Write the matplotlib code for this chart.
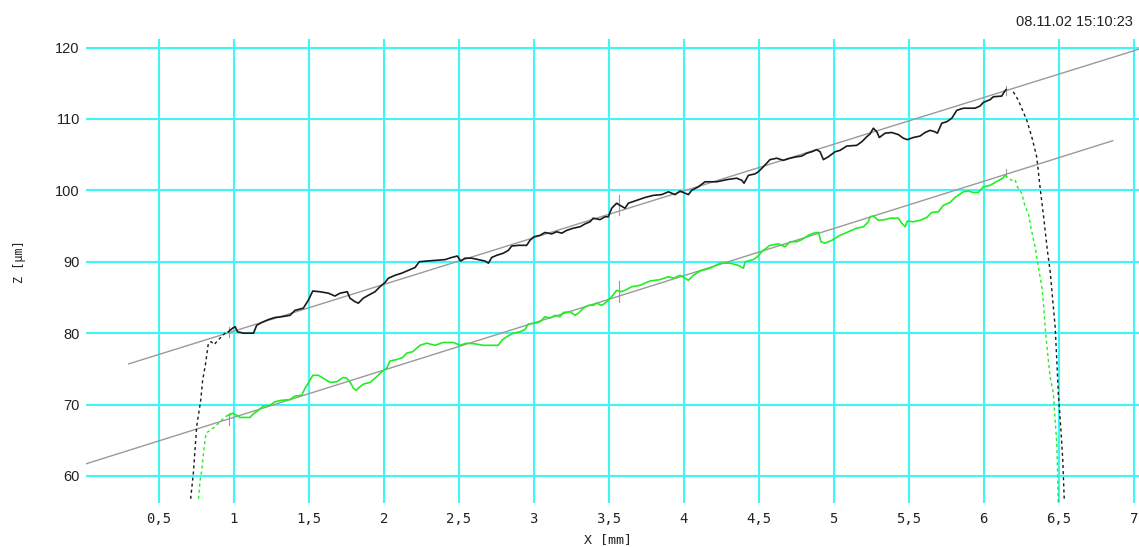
import matplotlib
matplotlib.use("Agg")
import matplotlib.pyplot as plt

# ---------------- data ----------------
# black profile: left run-in (dashed), measured (solid), right run-out (dashed)
black_left_x = [0.713, 0.731, 0.753, 0.780, 0.793, 0.813, 0.831, 0.850, 0.870, 0.890, 0.909, 0.942, 0.964]
black_left_z = [56.8, 60.4, 66.9, 70.6, 73.4, 75.8, 78.6, 78.8, 78.4, 78.9, 79.3, 80.0, 80.2]

black_x = [0.964, 0.993, 1.010, 1.025, 1.065, 1.132, 1.153, 1.187, 1.231, 1.276, 1.320, 1.375, 1.409,
           1.464, 1.497, 1.527, 1.575, 1.631, 1.675, 1.709, 1.757, 1.775, 1.809, 1.831, 1.864, 1.897,
           1.942, 1.975, 2.009, 2.031, 2.075, 2.120, 2.164, 2.209, 2.237, 2.287, 2.353, 2.409, 2.453,
           2.491, 2.513, 2.542, 2.587, 2.631, 2.675, 2.698, 2.720, 2.753, 2.798, 2.831, 2.853, 2.898,
           2.953, 2.975, 3.002, 3.042, 3.075, 3.120, 3.153, 3.187, 3.220, 3.264, 3.309, 3.342, 3.375,
           3.397, 3.442, 3.475, 3.497, 3.520, 3.553, 3.575, 3.609, 3.631, 3.687, 3.742, 3.798, 3.853,
           3.898, 3.942, 3.975, 4.009, 4.031, 4.053, 4.098, 4.142, 4.220, 4.287, 4.353, 4.387, 4.402,
           4.431, 4.475, 4.497, 4.531, 4.575, 4.620, 4.664, 4.709, 4.753, 4.787, 4.820, 4.853, 4.887,
           4.909, 4.931, 4.964, 5.009, 5.042, 5.087, 5.153, 5.187, 5.220, 5.242, 5.264, 5.287, 5.304,
           5.342, 5.387, 5.431, 5.464, 5.491, 5.531, 5.575, 5.609, 5.642, 5.675, 5.691, 5.720, 5.753,
           5.787, 5.820, 5.864, 5.909, 5.942, 5.975, 5.997, 6.042, 6.064, 6.120, 6.137, 6.149]
black_z = [80.2, 80.7, 80.9, 80.2, 80.0, 80.0, 81.1, 81.5, 81.9, 82.2, 82.3, 82.5, 83.2,
           83.5, 84.6, 85.9, 85.8, 85.6, 85.2, 85.6, 85.8, 84.9, 84.4, 84.2, 84.9, 85.3,
           85.8, 86.5, 87.1, 87.7, 88.1, 88.4, 88.8, 89.2, 90.0, 90.1, 90.2, 90.3, 90.6,
           90.8, 90.1, 90.5, 90.5, 90.3, 90.1, 89.8, 90.6, 90.9, 91.2, 91.6, 92.2, 92.3,
           92.3, 93.0, 93.5, 93.7, 94.1, 93.9, 94.2, 94.0, 94.4, 94.7, 94.9, 95.3, 95.6,
           96.1, 95.9, 96.3, 96.3, 97.5, 98.2, 97.9, 97.5, 98.2, 98.6, 99.0, 99.3, 99.4,
           99.8, 99.4, 99.9, 99.6, 99.4, 100.0, 100.5, 101.2, 101.2, 101.5, 101.7, 101.4, 101.0,
           102.1, 102.3, 102.6, 103.3, 104.3, 104.5, 104.2, 104.5, 104.7, 104.8, 105.2, 105.4, 105.7,
           105.4, 104.3, 104.7, 105.4, 105.6, 106.2, 106.3, 106.8, 107.5, 107.9, 108.7, 108.2, 107.4,
           108.0, 108.1, 107.8, 107.3, 107.1, 107.4, 107.6, 108.1, 108.4, 108.2, 108.0, 109.4, 109.6,
           110.1, 111.2, 111.5, 111.5, 111.5, 111.8, 112.3, 112.7, 113.1, 113.2, 113.8, 114.1]

black_right_x = [6.197, 6.231, 6.287, 6.320, 6.353, 6.375, 6.402, 6.424, 6.442, 6.460, 6.476,
                 6.487, 6.497, 6.513, 6.527, 6.535, 6.537]
black_right_z = [113.8, 112.6, 109.8, 107.5, 104.7, 100.5, 95.8, 91.6, 88.8, 84.6, 80.9,
                 76.2, 71.6, 66.9, 62.2, 57.6, 56.6]

# green profile
green_left_x = [0.765, 0.776, 0.787, 0.803, 0.816, 0.842, 0.875, 0.909, 0.942, 0.964]
green_left_z = [56.8, 59.4, 60.8, 64.1, 66.0, 66.4, 66.9, 67.6, 68.3, 68.5]

green_x = [0.964, 0.993, 1.020, 1.042, 1.109, 1.131, 1.164, 1.198, 1.242, 1.276, 1.320, 1.375, 1.409,
           1.453, 1.476, 1.497, 1.527, 1.564, 1.597, 1.642, 1.687, 1.731, 1.753, 1.780, 1.798, 1.816,
           1.842, 1.869, 1.909, 1.953, 1.987, 2.020, 2.042, 2.087, 2.127, 2.153, 2.193, 2.220, 2.242,
           2.287, 2.342, 2.397, 2.464, 2.509, 2.553, 2.609, 2.664, 2.720, 2.764, 2.787, 2.820, 2.864,
           2.909, 2.942, 2.964, 3.009, 3.042, 3.075, 3.109, 3.142, 3.175, 3.198, 3.242, 3.275, 3.298,
           3.331, 3.364, 3.397, 3.420, 3.453, 3.475, 3.497, 3.527, 3.553, 3.575, 3.609, 3.653, 3.709,
           3.775, 3.842, 3.898, 3.931, 3.975, 4.009, 4.031, 4.064, 4.109, 4.175, 4.242, 4.309, 4.364,
           4.398, 4.409, 4.464, 4.491, 4.520, 4.575, 4.631, 4.675, 4.709, 4.753, 4.787, 4.831, 4.864,
           4.898, 4.915, 4.942, 4.987, 5.042, 5.098, 5.153, 5.198, 5.231, 5.242, 5.264, 5.298, 5.342,
           5.376, 5.431, 5.453, 5.476, 5.491, 5.531, 5.575, 5.620, 5.653, 5.698, 5.731, 5.775, 5.809,
           5.864, 5.898, 5.931, 5.964, 5.997, 6.042, 6.075, 6.109, 6.127, 6.142]
green_z = [68.5, 68.8, 68.5, 68.2, 68.2, 68.7, 69.2, 69.8, 69.9, 70.4, 70.6, 70.7, 71.2,
           71.3, 72.3, 73.0, 74.1, 74.1, 73.7, 73.1, 73.2, 73.8, 73.7, 73.0, 72.3, 72.0,
           72.5, 72.9, 73.1, 73.9, 74.6, 75.1, 76.1, 76.3, 76.6, 77.2, 77.4, 77.9, 78.3,
           78.6, 78.3, 78.7, 78.7, 78.3, 78.6, 78.5, 78.3, 78.3, 78.3, 79.0, 79.5, 80.0,
           80.2, 80.5, 81.3, 81.4, 81.6, 82.3, 82.1, 82.5, 82.3, 82.9, 83.0, 82.5, 82.8,
           83.5, 83.9, 83.9, 84.2, 83.9, 84.2, 84.6, 85.3, 86.0, 85.8, 86.0, 86.5, 86.7,
           87.3, 87.5, 87.9, 87.7, 88.1, 87.7, 87.4, 88.1, 88.7, 89.1, 89.8, 89.8, 89.5,
           89.1, 90.0, 90.3, 90.7, 91.4, 92.3, 92.5, 92.1, 92.8, 92.8, 93.1, 93.7, 94.0,
           94.1, 92.8, 92.6, 93.0, 93.7, 94.2, 94.7, 94.9, 95.6, 96.3, 96.4, 95.8, 95.9,
           96.1, 96.1, 95.4, 94.9, 95.7, 95.6, 95.8, 96.2, 96.9, 97.0, 97.9, 98.3, 99.0,
           99.8, 99.9, 99.7, 99.7, 100.5, 100.7, 101.1, 101.5, 101.7, 102.1]

green_right_x = [6.142, 6.187, 6.209, 6.224, 6.253, 6.276, 6.298, 6.313, 6.342, 6.364, 6.387,
                 6.398, 6.409, 6.424, 6.442, 6.464, 6.476, 6.487, 6.493, 6.497]
green_right_z = [102.1, 101.4, 101.5, 100.5, 99.6, 97.7, 96.8, 94.9, 92.1, 89.3, 86.5,
                 84.2, 80.9, 77.6, 73.9, 71.6, 67.8, 64.6, 59.9, 56.2]

# fitted reference lines
fit_top_x = [0.30, 7.04]
fit_top_z = [75.7, 119.8]
fit_bot_x = [0.0, 6.86]
fit_bot_z = [61.6, 106.95]

# cursor marks (x, z from, z to)
cursor_x = [0.97, 3.57, 6.15]
cursor_top_lo = [79.5, 96.6, 113.3]
cursor_top_hi = [80.9, 99.4, 114.6]
cursor_bot_lo = [67.1, 84.3, 101.8]
cursor_bot_hi = [68.8, 87.3, 103.0]

x_ticks = [0.5, 1, 1.5, 2, 2.5, 3, 3.5, 4, 4.5, 5, 5.5, 6, 6.5, 7]
x_tick_labels = ["0,5", "1", "1,5", "2", "2,5", "3", "3,5", "4", "4,5", "5", "5,5", "6", "6,5", "7"]
y_ticks = [60, 70, 80, 90, 100, 110, 120]
y_tick_labels = ["60", "70", "80", "90", "100", "110", "120"]

timestamp = "08.11.02 15:10:23"
x_label = "X [mm]"
y_label = "Z [µm]"

# ---------------- figure ----------------
W, H = 1139, 547
fig = plt.figure(figsize=(W / 100, H / 100), dpi=100, facecolor="white")
ax = fig.add_axes([86 / W, (H - 502.7) / H, (W - 86) / W, (502.7 - 39.3) / H])
ax.set_facecolor("white")
ax.set_xlim(0.0153, 7.035)
ax.set_ylim(56.26, 121.15)
for s in ax.spines.values():
    s.set_visible(False)

grid_c = "#3ff6f6"
for xv in x_ticks:
    ax.axvline(xv, color=grid_c, lw=1.5, zorder=0)
for yv in y_ticks:
    ax.axhline(yv, color=grid_c, lw=1.5, zorder=0)

ax.set_xticks(x_ticks)
ax.set_xticklabels(x_tick_labels, family="DejaVu Sans Mono", fontsize=10)
ax.set_yticks(y_ticks)
ax.set_yticklabels(y_tick_labels, family="Liberation Sans", fontsize=10.5, color="#222222")
ax.tick_params(axis="x", length=0, pad=7, colors="#222222")
ax.tick_params(axis="y", length=0, pad=4.5)

fit_c = "#9a9a9a"
ax.plot(fit_top_x, fit_top_z, color=fit_c, lw=1.0, zorder=2)
ax.plot(fit_bot_x, fit_bot_z, color=fit_c, lw=1.0, zorder=2)
for cx, lo, hi in zip(cursor_x, cursor_top_lo, cursor_top_hi):
    ax.plot([cx, cx], [lo, hi], color=fit_c, lw=0.8, zorder=2)
for cx, lo, hi in zip(cursor_x, cursor_bot_lo, cursor_bot_hi):
    ax.plot([cx, cx], [lo, hi], color=fit_c, lw=0.8, zorder=2)

blk = "#1a1a1a"
grn = "#22ee22"
dash = (0, (2.2, 2.2))
ax.plot(black_left_x, black_left_z, color=blk, lw=1.0, ls=dash, zorder=3)
ax.plot(black_x, black_z, color=blk, lw=1.2, zorder=3)
ax.plot(black_right_x, black_right_z, color=blk, lw=1.0, ls=dash, zorder=3)
ax.plot(green_left_x, green_left_z, color=grn, lw=1.0, ls=dash, zorder=3)
ax.plot(green_x, green_z, color=grn, lw=1.2, zorder=3)
ax.plot(green_right_x, green_right_z, color=grn, lw=1.0, ls=dash, zorder=3)

fig.text(1133 / W, 1 - 22 / H, timestamp, ha="right", va="center",
         family=["Liberation Sans Narrow", "Liberation Sans"], fontsize=10.5, color="#222222")
fig.text(608 / W, 1 - 539.5 / H, x_label, ha="center", va="center",
         family="DejaVu Sans Mono", fontsize=9.5, color="#222222")
fig.text(19 / W, 1 - 262 / H, y_label, ha="center", va="center", rotation=90,
         family="DejaVu Sans Mono", fontsize=8.5, color="#222222")

fig.savefig("out.png", dpi=100, facecolor="white")
